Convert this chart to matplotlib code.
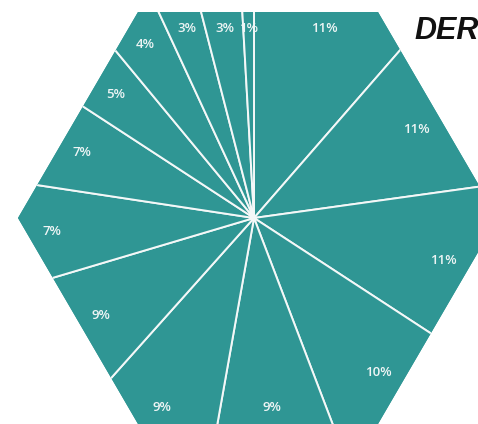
import numpy as np
import matplotlib
matplotlib.use('Agg')
import matplotlib.pyplot as plt
from matplotlib.patches import Polygon

# slice labels, clockwise from the top, and the shares
labels = ['11%', '11%', '11%', '10%', '9%', '9%', '9%', '7%', '7%', '5%', '4%', '3%', '3%', '1%']
shares = [11.4, 11.4, 11.4, 10.0, 8.6, 8.8, 8.8, 7.0, 6.8, 4.8, 4.1, 2.9, 3.1, 0.9]

W, H = 478, 424
teal = '#2f9694'
label_size = 9.5

fig = plt.figure(figsize=(W / 100, H / 100), dpi=100)
ax = fig.add_axes([0, 0, 1, 1])

# hexagon with pointy left/right ends, sizes in pixels
hx, hy = 258, H - 218
rw, rh = 240, 206
hexpts = np.array([(hx + rw, hy), (hx + rw / 2, hy + rh), (hx - rw / 2, hy + rh),
                   (hx - rw, hy), (hx - rw / 2, hy - rh), (hx + rw / 2, hy - rh)])
hexagon = Polygon(hexpts, closed=True, facecolor=teal, edgecolor='none')
ax.add_patch(hexagon)

cx, cy = 254, H - 218
wedges, _ = ax.pie(shares, startangle=90, counterclock=False, center=(cx, cy),
                   radius=420, colors=[teal] * len(shares), frame=True,
                   wedgeprops=dict(edgecolor='#f4f8f8', linewidth=1.4))
for w in wedges:
    # pie turns clipping off for its wedges
    w.set_clip_on(True)
    w.set_clip_path(hexagon)

# inward normals and offsets of the hexagon sides
sides = []
for i in range(6):
    p, q = hexpts[i], hexpts[(i + 1) % 6]
    e = (q - p) / np.hypot(*(q - p))
    n = np.array([-e[1], e[0]])  # points inside for counter-clockwise order
    sides.append((p, n))


def label_distance(ux, uy, tw, th, gap=12):
    # how far along the ray the label box can go and still keep a gap to every side
    u = np.array([ux, uy])
    best = 1e9
    for p, n in sides:
        un = u @ n
        if un >= 0:
            continue
        s0 = (np.array([cx, cy]) - p) @ n
        ext = tw / 2 * abs(n[0]) + th / 2 * abs(n[1])
        best = min(best, (s0 - gap - ext) / -un)
    return best


cum = np.cumsum([0] + shares) / sum(shares) * 360
px = label_size * 100 / 72
for lab, a0, a1 in zip(labels, cum[:-1], cum[1:]):
    mid = np.deg2rad((a0 + a1) / 2)
    ux, uy = np.sin(mid), np.cos(mid)
    tw = px * (0.57 * (len(lab) - 1) + 0.85)
    d = label_distance(ux, uy, tw, px * 0.72)
    ax.text(cx + ux * d, cy + uy * d, lab, color='#eef5f5', fontsize=label_size,
            fontweight='semibold', family='Open Sans', ha='center', va='center')

ax.text(414, H - 39, 'DER', fontsize=22, fontweight='bold', fontstyle='italic',
        family='Liberation Sans', color='#111111', ha='left', va='baseline')

ax.set_xlim(0, W)
ax.set_ylim(0, H)
ax.set_aspect('auto')
ax.axis('off')

fig.savefig('out.png', dpi=100, facecolor='white')
